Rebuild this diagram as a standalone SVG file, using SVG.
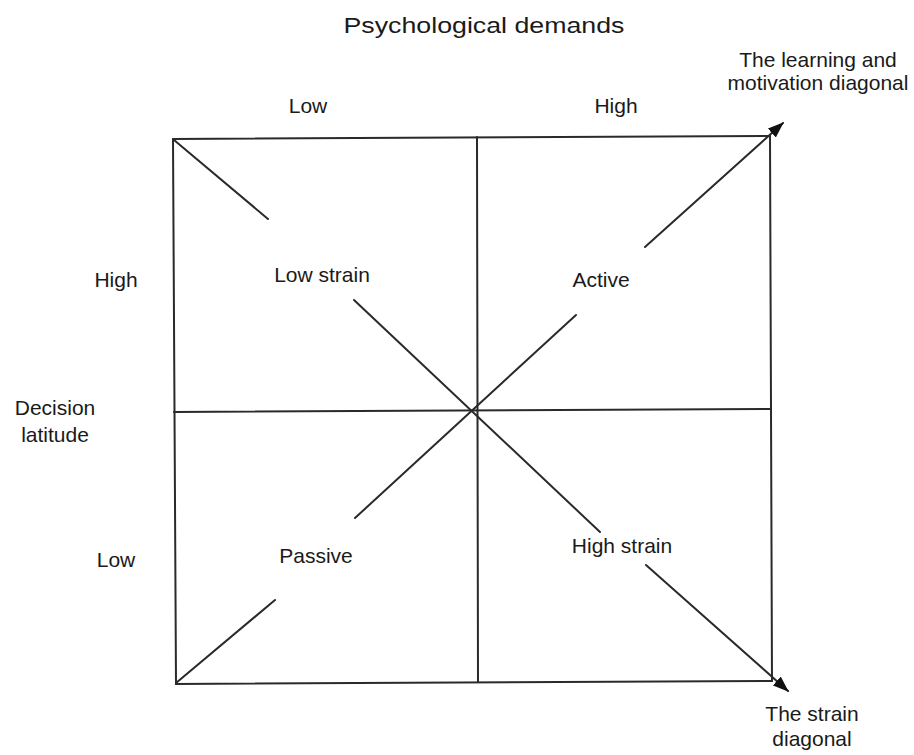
<svg xmlns="http://www.w3.org/2000/svg" width="914" height="755" viewBox="0 0 914 755">
<style>
  text { font-family: "Liberation Sans", Arial, sans-serif; font-size: 21px; fill: #1a1a1a; }
  .ln { stroke: #2a2a2a; stroke-width: 2; fill: none; stroke-linecap: round; }
</style>
<defs>
  <marker id="arrow" viewBox="0 0 16 12" refX="15" refY="6" markerWidth="16" markerHeight="12" markerUnits="userSpaceOnUse" orient="auto">
    <path d="M0,0 L16,6 L0,12 z" fill="#111"/>
  </marker>
</defs>
<rect width="914" height="755" fill="#fff"/>
<g id="grid">
  <polygon class="ln" points="173,139 770,136 772,681 176,684"/>
  <line class="ln" x1="477" y1="137" x2="478" y2="682"/>
  <line class="ln" x1="174" y1="412" x2="771" y2="409"/>
</g>
<g id="connectors">
  <line class="ln" x1="174" y1="140" x2="268" y2="219"/>
  <line class="ln" x1="354" y1="300" x2="600" y2="532"/>
  <line class="ln" x1="646" y1="565" x2="788" y2="691" marker-end="url(#arrow)"/>
  <line class="ln" x1="176" y1="683" x2="275" y2="600"/>
  <line class="ln" x1="355" y1="518" x2="576" y2="315"/>
  <line class="ln" x1="645" y1="247" x2="783" y2="123" marker-end="url(#arrow)"/>
</g>
<g id="title"><text x="484" y="33" text-anchor="middle" textLength="281" lengthAdjust="spacingAndGlyphs" style="font-size:22px">Psychological demands</text></g>
<g id="axis-top">
  <text x="308" y="113" text-anchor="middle">Low</text>
  <text x="616" y="113" text-anchor="middle">High</text>
</g>
<g id="axis-left">
  <text x="116" y="287" text-anchor="middle">High</text>
  <text x="55" y="415" text-anchor="middle">Decision</text>
  <text x="55" y="442" text-anchor="middle">latitude</text>
  <text x="116" y="567" text-anchor="middle">Low</text>
</g>
<g id="low-strain"><text x="322" y="282" text-anchor="middle">Low strain</text></g>
<g id="active"><text x="601" y="287" text-anchor="middle">Active</text></g>
<g id="passive"><text x="316" y="563" text-anchor="middle">Passive</text></g>
<g id="high-strain"><text x="622" y="553" text-anchor="middle">High strain</text></g>
<g id="learning-label">
  <text x="818" y="67" text-anchor="middle">The learning and</text>
  <text x="818" y="90" text-anchor="middle">motivation diagonal</text>
</g>
<g id="strain-label">
  <text x="812" y="721" text-anchor="middle">The strain</text>
  <text x="812" y="746" text-anchor="middle">diagonal</text>
</g>
</svg>
